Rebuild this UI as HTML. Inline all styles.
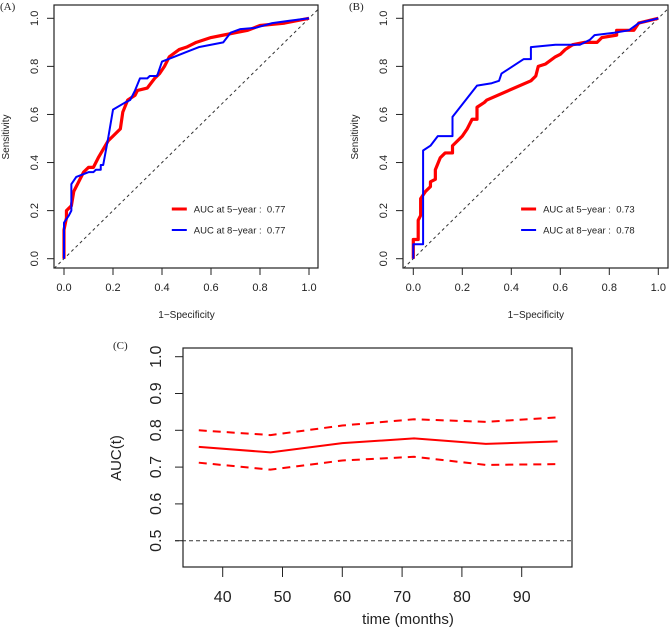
<!DOCTYPE html>
<html><head><meta charset="utf-8"><style>
body{margin:0;background:#fff}
svg text{font-family:"Liberation Sans",sans-serif;fill:#222;white-space:pre}
</style></head><body>
<svg id="s" width="669" height="628" viewBox="0 0 669 628" xmlns="http://www.w3.org/2000/svg"></svg>
<script>
const rocARedFpr=[0,0,.01,.01,.03,.04,.06,.08,.1,.12,.14,.18,.2,.23,.24,.26,.29,.3,.34,.37,.39,.41,.43,.47,.5,.54,.6,.65,.7,.75,.8,.9,1];
const rocARedTpr=[0,.12,.17,.2,.22,.28,.32,.36,.38,.38,.42,.49,.51,.54,.61,.66,.68,.70,.71,.75,.77,.80,.84,.87,.88,.90,.92,.93,.94,.95,.97,.98,1];
const rocABlueFpr=[0,0,.02,.03,.03,.05,.1,.12,.13,.15,.15,.16,.18,.2,.25,.27,.29,.31,.34,.35,.38,.4,.45,.5,.55,.6,.65,.68,.72,.78,.85,.92,1];
const rocABlueTpr=[0,.15,.18,.2,.31,.34,.36,.36,.37,.37,.39,.39,.5,.62,.65,.66,.7,.75,.75,.76,.76,.82,.84,.86,.88,.89,.9,.94,.955,.96,.98,.99,1];
const rocBRedFpr=[0,0,.02,.02,.03,.03,.05,.07,.07,.09,.09,.11,.13,.16,.16,.2,.22,.24,.26,.26,.29,.3,.48,.5,.51,.54,.58,.6,.62,.65,.7,.75,.77,.83,.83,.9,.92,1];
const rocBRedTpr=[0,.08,.08,.16,.18,.25,.28,.3,.32,.33,.37,.42,.44,.44,.47,.51,.54,.58,.58,.63,.65,.66,.74,.76,.8,.81,.84,.85,.87,.89,.9,.9,.92,.93,.95,.95,.98,1];
const rocBBlueFpr=[0,0,.04,.04,.07,.1,.16,.16,.26,.32,.35,.36,.39,.45,.48,.48,.58,.68,.72,.74,.82,.88,.92,1];
const rocBBlueTpr=[0,.06,.06,.45,.47,.51,.51,.59,.72,.73,.74,.77,.79,.83,.83,.88,.89,.89,.91,.93,.94,.95,.98,1];
const legendA=["AUC at 5\u2212year :  0.77","AUC at 8\u2212year :  0.77"];
const legendB=["AUC at 5\u2212year :  0.73","AUC at 8\u2212year :  0.78"];
const rocTicks=[0,0.2,0.4,0.6,0.8,1.0];
const times=[36,48,60,72,84,96];
const aucVals=[.755,.74,.765,.778,.763,.77];
const aucUpper=[.80,.787,.813,.83,.823,.835];
const aucLower=[.712,.693,.718,.728,.706,.708];
const timeTicks=[40,50,60,70,80,90];
const aucTicks=[0.5,0.6,0.7,0.8,0.9,1.0];

const S=document.getElementById('s');
function el(t,a,txt){const e=document.createElementNS('http://www.w3.org/2000/svg',t);for(const k in a)e.setAttribute(k,a[k]);if(txt!==undefined)e.textContent=txt;S.appendChild(e);return e;}

function roc(px,x0,x1,box,fr,tr,fb,tb,leg,lbl,nm){
  const sx=v=>x0+v*(x1-x0), sy=v=>258.7-v*(258.7-18.3);
  let r=el('rect',{x:box[0],y:5,width:box[1]-box[0],height:263,fill:'none',stroke:'#222','stroke-width':1.2});
  
  let d=el('line',{x1:sx(-0.04),y1:sy(-0.04),x2:sx(1.04),y2:sy(1.04),stroke:'#333','stroke-dasharray':'3,3','stroke-width':1});
  
  rocTicks.forEach(t=>{
    let a=el('line',{x1:sx(t),y1:268,x2:sx(t),y2:275,stroke:'#222'});
    let b=el('text',{x:sx(t),y:291,'font-size':11,'text-anchor':'middle'},t.toFixed(1));
    let c=el('line',{x1:box[0],y1:sy(t),x2:box[0]-7,y2:sy(t),stroke:'#222'});
    const tx=box[0]-16;
    let e=el('text',{x:tx,y:sy(t),'font-size':11,'text-anchor':'middle',transform:`rotate(-90 ${tx} ${sy(t)})`},t.toFixed(1));
  });
  const path=(f,t,c,w,n)=>{let p=el('polyline',{points:f.map((v,i)=>sx(v)+','+sy(t[i])).join(' '),fill:'none',stroke:c,'stroke-width':w,'stroke-linejoin':'round'});};
  path(fr,tr,'#ff0000',3.2,nm+'-roc-5-year');
  path(fb,tb,'#0000ff',2,nm+'-roc-8-year');
  const lx=sx(0.44);
  [['#ff0000',209,leg[0],3],['#0000ff',230,leg[1],2]].forEach((q,i)=>{
    let l=el('line',{x1:lx,y1:q[1],x2:lx+15,y2:q[1],stroke:q[0],'stroke-width':q[3]});
    let t=el('text',{x:lx+22,y:q[1]+3.5,'font-size':9.5},q[2]);
  });
  let yl=el('text',{x:px+9,y:137,'font-size':10,'text-anchor':'middle',transform:`rotate(-90 ${px+9} 137)`},'Sensitivity');
  let xl=el('text',{x:(x0+x1)/2,y:318,'font-size':10,'text-anchor':'middle'},'1\u2212Specificity');
  let pl=el('text',{x:px,y:10,'font-size':11,style:'font-family:Liberation Serif,serif'},lbl);
}
roc(0,64,309,[54,318],rocARedFpr,rocARedTpr,rocABlueFpr,rocABlueTpr,legendA,'(A)','panel-a');
roc(349,413.3,658.3,[403,668],rocBRedFpr,rocBRedTpr,rocBBlueFpr,rocBBlueTpr,legendB,'(B)','panel-b');

// Panel C
const cx=v=>222.7+(v-40)*5.98, cy=v=>540.7-(v-0.5)*368;
let fr=el('rect',{x:183,y:348,width:389,height:219,fill:'none',stroke:'#222','stroke-width':1.2});

let ref=el('line',{x1:175,y1:cy(0.5),x2:572,y2:cy(0.5),stroke:'#333','stroke-dasharray':'4,3','stroke-width':1});

timeTicks.forEach(t=>{
  let a=el('line',{x1:cx(t),y1:567,x2:cx(t),y2:577,stroke:'#222'});
  let b=el('text',{x:cx(t),y:602,'font-size':16,'text-anchor':'middle'},t);
});
aucTicks.forEach(t=>{
  let a=el('line',{x1:183,y1:cy(t),x2:175,y2:cy(t),stroke:'#222'});
  let b=el('text',{x:161,y:cy(t),'font-size':16,'text-anchor':'middle',transform:`rotate(-90 161 ${cy(t)})`},t.toFixed(1));
});
const cl=(v,dash,n)=>{let p=el('polyline',{points:times.map((t,i)=>cx(t)+','+cy(v[i])).join(' '),fill:'none',stroke:'#ff0000','stroke-width':2,'stroke-dasharray':dash});};
cl(aucVals,'none','auc-line');
cl(aucUpper,'8,6','auc-upper-ci');
cl(aucLower,'8,6','auc-lower-ci');
let xt=el('text',{x:408,y:624,'font-size':15,'text-anchor':'middle'},'time (months)');
let yt=el('text',{x:121,y:458,'font-size':15,'text-anchor':'middle',transform:'rotate(-90 121 458)'},'AUC(t)');
let pc=el('text',{x:113,y:349,'font-size':11,style:'font-family:Liberation Serif,serif'},'(C)');
</script>
</body></html>
